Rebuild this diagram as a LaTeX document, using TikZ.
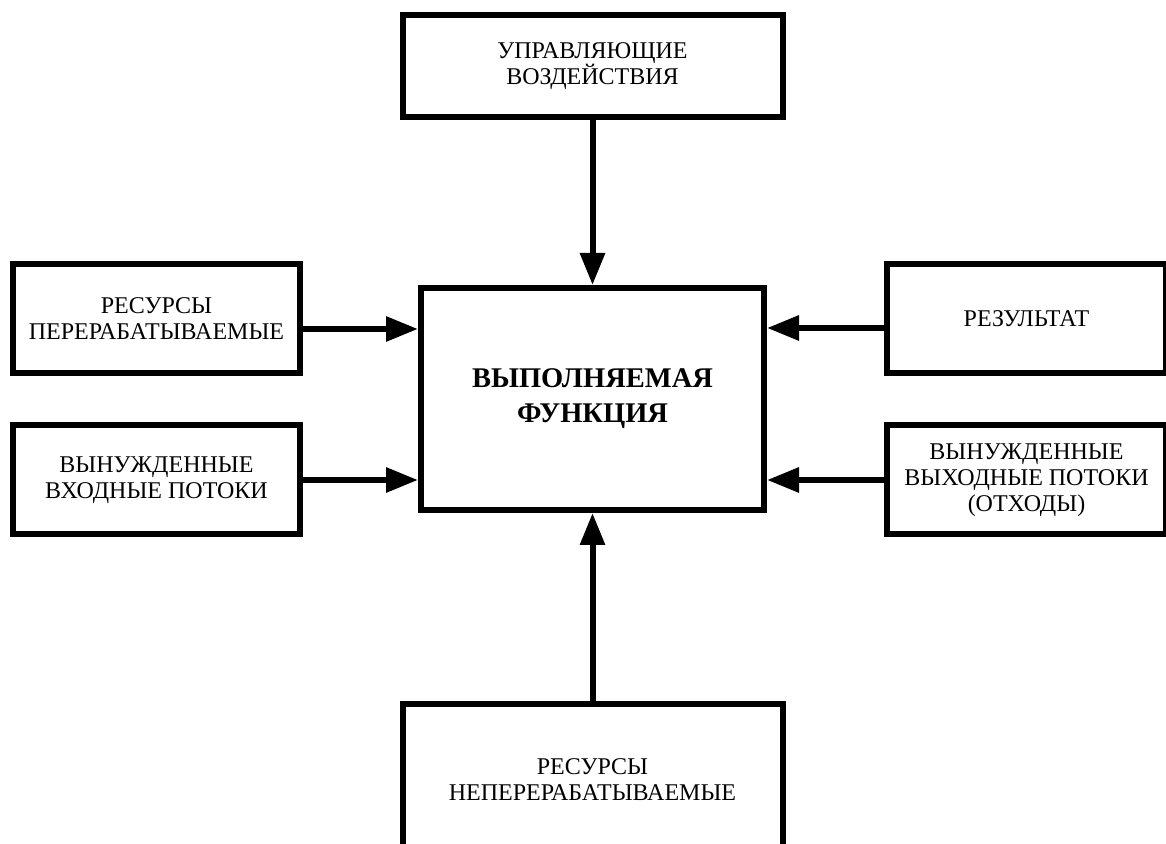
\documentclass[tikz,border=0pt]{standalone}
\usepackage{fontspec}
\setmainfont{Liberation Serif}
\usepackage{tikz}
\usetikzlibrary{arrows.meta, positioning}
\tikzset{
  funcbox/.style={
    draw, line width=6pt, align=center, fill=white,
    font=\fontsize{28.5}{35}\selectfont\bfseries,
    minimum width=343pt, minimum height=222pt
  },
  flowbox/.style={
    draw, line width=6pt, align=center, fill=white,
    font=\fontsize{24}{26}\selectfont, inner sep=2pt
  },
  flowarrow/.style={
    -{Triangle[length=32pt, width=24pt]}, line width=6pt
  },
}

\begin{document}
\begin{tikzpicture}[x=1pt, y=1pt]
  \useasboundingbox (0,0) rectangle (1166,843);
  \clip (0,0) rectangle (1166,843);

  % ── Central function ──
  \node[funcbox] (func) at (592.5,444) {ВЫПОЛНЯЕМАЯ\\ФУНКЦИЯ};

  % ── Control and fixed resources ──
  \node[flowbox, minimum width=380pt, minimum height=102pt, above=165pt of func]
    (ctrl) {УПРАВЛЯЮЩИЕ\\ВОЗДЕЙСТВИЯ};

  \node[flowbox, minimum width=380pt, minimum height=152pt, below=188pt of func]
    (nres) {РЕСУРСЫ\\НЕПЕРЕРАБАТЫВАЕМЫЕ};

  % ── Inputs ──
  \node[flowbox, minimum width=287pt, minimum height=109pt,
        left=115pt of func.west, yshift=80pt]
    (pres) {РЕСУРСЫ\\ПЕРЕРАБАТЫВАЕМЫЕ};

  \node[flowbox, minimum width=287pt, minimum height=109pt,
        left=115pt of func.west, yshift=-81pt]
    (fin) {ВЫНУЖДЕННЫЕ\\ВХОДНЫЕ ПОТОКИ};

  % ── Outputs ──
  \node[flowbox, minimum width=279pt, minimum height=109pt,
        right=117pt of func.east, yshift=80pt]
    (res) {РЕЗУЛЬТАТ};

  \node[flowbox, minimum width=279pt, minimum height=109pt,
        right=117pt of func.east, yshift=-81pt]
    (fout) {ВЫНУЖДЕННЫЕ\\ВЫХОДНЫЕ ПОТОКИ\\(ОТХОДЫ)};

  % ── Arrows ──
  \draw[flowarrow] (ctrl) -- (func);
  \draw[flowarrow] (nres) -- (func);
  \draw[flowarrow] ([yshift=-10pt]pres.east) coordinate (pa) -- (pa -| func.west);
  \draw[flowarrow] (fin.east) -- (fin.east -| func.west);
  \draw[flowarrow] ([yshift=-9pt]res.west) coordinate (ra) -- (ra -| func.east);
  \draw[flowarrow] (fout.west) -- (fout.west -| func.east);
\end{tikzpicture}
\end{document}
